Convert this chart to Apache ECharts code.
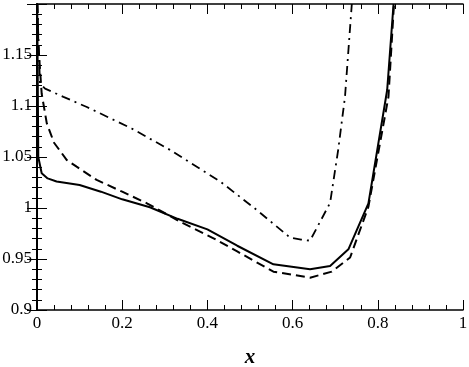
<!DOCTYPE html>
<html>
<head>
<meta charset="utf-8">
<script src="https://cdn.jsdelivr.net/npm/echarts@6/dist/echarts.min.js"></script>
<style>
  html, body { margin: 0; padding: 0; background: #fff; }
  #chart { width: 469px; height: 367px; }
</style>
</head>
<body>
<div id="chart"></div>
<script>
  // 数据：三条曲线
  const solidX = [0.0005, 0.003, 0.011, 0.025, 0.046, 0.1, 0.15, 0.2, 0.265, 0.33, 0.4, 0.47, 0.555, 0.641, 0.688, 0.731, 0.778, 0.822, 0.837];
  const solidY = [1.2, 1.05, 1.034, 1.029, 1.026, 1.0225, 1.016, 1.0085, 1.0007, 0.9894, 0.979, 0.963, 0.9448, 0.9399, 0.9431, 0.9595, 1.0046, 1.1157, 1.2];

  const dashX = [0.001, 0.003, 0.011, 0.023, 0.04, 0.07, 0.093, 0.14, 0.2, 0.258, 0.336, 0.422, 0.47, 0.555, 0.641, 0.692, 0.735, 0.778, 0.825, 0.838];
  const dashY = [1.2, 1.161, 1.112, 1.083, 1.064, 1.047, 1.0405, 1.0275, 1.016, 1.0046, 0.9866, 0.9686, 0.9574, 0.9376, 0.9317, 0.9376, 0.9515, 1.0013, 1.109, 1.2];

  const dashDotX = [0.0005, 0.007, 0.019, 0.062, 0.117, 0.222, 0.312, 0.43, 0.516, 0.594, 0.62, 0.641, 0.688, 0.707, 0.723, 0.739];
  const dashDotY = [1.2, 1.122, 1.117, 1.109, 1.099, 1.078, 1.057, 1.026, 0.998, 0.971, 0.969, 0.968, 1.005, 1.057, 1.109, 1.2];

  const xTicks = [0, 0.2, 0.4, 0.6, 0.8, 1];
  const yTicks = [0.9, 0.95, 1, 1.05, 1.1, 1.15];

  const font = 'Liberation Serif';

  function pairs(xs, ys) {
    return xs.map((x, i) => [x, ys[i]]);
  }

  function fmt(v) {
    return String(Math.round(v * 1000) / 1000);
  }

  const tickCommon = {
    axisLine: { show: true, lineStyle: { color: '#000', width: 1.5 } },
    axisTick: { show: true, inside: true, length: 10, lineStyle: { color: '#000', width: 1 } },
    minorTick: { show: true, splitNumber: 5, length: 5, lineStyle: { color: '#000', width: 1 } },
    splitLine: { show: false },
  };

  const chart = echarts.init(document.getElementById('chart'));
  chart.setOption({
    animation: false,
    backgroundColor: '#fff',
    grid: { left: 37, right: 6, top: 4, bottom: 57, outerBoundsMode: 'none', containLabel: false },
    xAxis: [
      {
        type: 'value', min: 0, max: 1, interval: 0.2, position: 'bottom',
        ...tickCommon,
        axisLabel: {
          color: '#000', fontFamily: font, fontSize: 17, margin: 5,
          formatter: v => xTicks.some(t => Math.abs(t - v) < 1e-9) ? fmt(v) : ''
        },
        name: 'x', nameLocation: 'middle', nameGap: 37,
        nameTextStyle: { color: '#000', fontFamily: font, fontSize: 21, fontWeight: 'bold', fontStyle: 'italic' }
      },
      {
        type: 'value', min: 0, max: 1, interval: 0.2, position: 'top',
        ...tickCommon,
        axisLabel: { show: false }
      }
    ],
    yAxis: [
      {
        type: 'value', min: 0.9, max: 1.2, interval: 0.05, position: 'left',
        ...tickCommon,
        axisLine: { show: true, lineStyle: { color: '#000', width: 2 } },
        axisLabel: {
          color: '#000', fontFamily: font, fontSize: 17, margin: 5,
          formatter: v => yTicks.some(t => Math.abs(t - v) < 1e-9) ? fmt(v) : ''
        }
      },
      {
        type: 'value', min: 0.9, max: 1.2, interval: 0.05, position: 'right',
        ...tickCommon,
        axisLabel: { show: false }
      }
    ],
    series: [
      {
        type: 'line', data: pairs(solidX, solidY), showSymbol: false, clip: true,
        lineStyle: { color: '#000', width: 2, type: 'solid' }
      },
      {
        type: 'line', data: pairs(dashX, dashY), showSymbol: false, clip: true,
        lineStyle: { color: '#000', width: 2, type: [9, 5] }
      },
      {
        type: 'line', data: pairs(dashDotX, dashDotY), showSymbol: false, clip: true,
        lineStyle: { color: '#000', width: 1.8, type: [9, 5, 2, 5] }
      }
    ]
  });
</script>
</body>
</html>
